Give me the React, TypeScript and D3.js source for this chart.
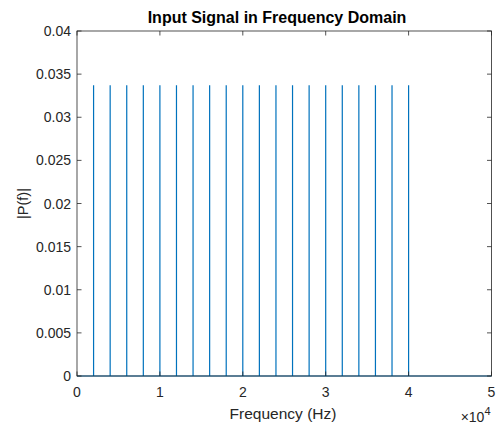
import React from "react";
import * as d3 from "d3";

const spikeFreqs = [2000, 4000, 6000, 8000, 10000, 12000, 14000, 16000, 18000, 20000, 22000, 24000, 26000, 28000, 30000, 32000, 34000, 36000, 38000, 40000];
const spikeAmps = [0.0337, 0.0337, 0.0337, 0.0337, 0.0337, 0.0337, 0.0337, 0.0337, 0.0337, 0.0337, 0.0337, 0.0337, 0.0337, 0.0337, 0.0337, 0.0337, 0.0337, 0.0337, 0.0337, 0.0337];
const xDomain = [0, 50000];
const yDomain = [0, 0.04];
const xTicks = [0, 10000, 20000, 30000, 40000, 50000];
const xTickLabels = ["0", "1", "2", "3", "4", "5"];
const yTicks = [0, 0.005, 0.01, 0.015, 0.02, 0.025, 0.03, 0.035, 0.04];
const yTickLabels = ["0", "0.005", "0.01", "0.015", "0.02", "0.025", "0.03", "0.035", "0.04"];

export default function App() {
  const W = 498, H = 426;
  const L = 77, R = 491.5, T = 31, B = 376;
  const x = d3.scaleLinear().domain(xDomain).range([L, R]);
  const y = d3.scaleLinear().domain(yDomain).range([B, T]);
  const pts: [number, number][] = [[xDomain[0], 0]];
  spikeFreqs.forEach((f, i) => {
    pts.push([f, 0], [f, spikeAmps[i]], [f, 0]);
  });
  pts.push([xDomain[1], 0]);
  const line = d3.line<[number, number]>().x(d => x(d[0])).y(d => y(d[1]));
  const font = "'Liberation Sans', Arial, Helvetica, sans-serif";
  const tc = "#262626";
  const tl = 4.5;
  return (
    <svg width={W} height={H} style={{ position: "absolute", left: 0, top: 0, background: "#fff" }} fontFamily={font}>
      <rect x={0} y={0} width={W} height={H} fill="#fff" />
      <path d={line(pts) || ""} fill="none" stroke="#0072BD" strokeWidth={1.2} />
      <g stroke={tc} strokeWidth={0.8} fill="none">
        <rect x={L} y={T} width={R - L} height={B - T} />
        {xTicks.map(t => (
          <g key={"xt" + t}>
            <line x1={x(t)} x2={x(t)} y1={B} y2={B - tl} />
            <line x1={x(t)} x2={x(t)} y1={T} y2={T + tl} />
          </g>
        ))}
        {yTicks.map(t => (
          <g key={"yt" + t}>
            <line x1={L} x2={L + tl} y1={y(t)} y2={y(t)} />
            <line x1={R} x2={R - tl} y1={y(t)} y2={y(t)} />
          </g>
        ))}
      </g>
      <g fill={tc} fontSize={14}>
        {xTicks.map((t, i) => (
          <text key={"xl" + t} x={x(t)} y={B + 20.5} textAnchor="middle">{xTickLabels[i]}</text>
        ))}
        {yTicks.map((t, i) => (
          <text key={"yl" + t} x={L - 6} y={y(t) + 5} textAnchor="end">{yTickLabels[i]}</text>
        ))}
        <text x={283} y={418.5} textAnchor="middle" fontSize={15.5}>Frequency (Hz)</text>
        <text transform={`translate(28,${(T + B) / 2}) rotate(-90)`} textAnchor="middle" fontSize={14.5}>|P(f)|</text>
        <text x={R - 1} y={421.5} textAnchor="end" fontSize={14}>×10<tspan dy={-7} fontSize={11}>4</tspan></text>
      </g>
      <text x={277} y={23} textAnchor="middle" fontWeight="bold" fontSize={16} fill="#000">Input Signal in Frequency Domain</text>
    </svg>
  );
}
